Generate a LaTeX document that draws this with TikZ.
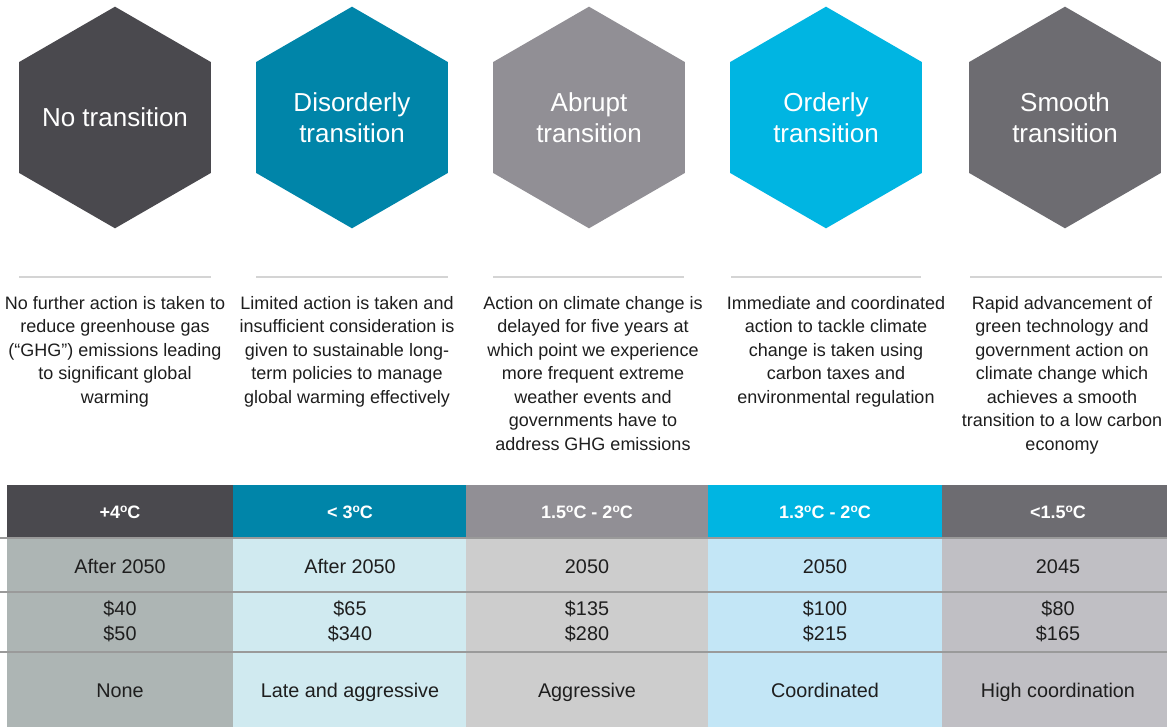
\documentclass[tikz,border=0pt]{standalone}
\usepackage{fontspec}
\setmainfont{Liberation Sans}
\usetikzlibrary{shapes.geometric}
\definecolor{hexA}{HTML}{4A494E}
\definecolor{hexB}{HTML}{0085A9}
\definecolor{hexC}{HTML}{918F95}
\definecolor{hexD}{HTML}{00B5E2}
\definecolor{hexE}{HTML}{6D6C71}
\definecolor{bodyA}{HTML}{ADB5B4}
\definecolor{bodyB}{HTML}{D0EAF0}
\definecolor{bodyC}{HTML}{CDCDCD}
\definecolor{bodyD}{HTML}{C3E6F6}
\definecolor{bodyE}{HTML}{C0BFC4}
\definecolor{rule}{HTML}{9A9A9A}
\definecolor{sep}{HTML}{D4D4D4}
\definecolor{ink}{HTML}{1E1E1E}
\tikzset{
  hexa/.style={regular polygon, regular polygon sides=6, shape border rotate=30,
    minimum size=221.6pt, inner sep=0pt},
  hextext/.style={text=white, align=center, inner sep=0pt,
    font=\fontsize{26}{31}\selectfont},
  desc/.style={anchor=north, inner sep=0pt, align=center, text=ink,
    font=\fontsize{18}{23.5}\selectfont},
  sepline/.style={draw=sep, line width=1.6pt},
  cell/.style={anchor=north west, inner sep=0pt, outer sep=0pt},
  head/.style={text=white, inner sep=0pt, text height=13pt, text depth=0pt,
    font=\bfseries\fontsize{18}{20}\selectfont},
  body/.style={text=ink, align=center, inner sep=0pt,
    font=\fontsize{19.8}{25}\selectfont},
  one/.style={text height=14.2pt, text depth=0pt},
  hrule/.style={draw=rule, line width=1.6pt}
}
\newcommand{\dg}{\raisebox{0.33em}{\fontsize{12}{12}\selectfont o}}
\begin{document}
\begin{tikzpicture}[x=1pt,y=-1pt]
\useasboundingbox (0,0) rectangle (1167,727);
\fill[white] (0,0) rectangle (1167,727);
% hexagons
\node[hexa, fill=hexA] (h1) at (115,117.5) {};
\node[hexa, fill=hexB] (h2) at (352,117.5) {};
\node[hexa, fill=hexC] (h3) at (589,117.5) {};
\node[hexa, fill=hexD] (h4) at (826,117.5) {};
\node[hexa, fill=hexE] (h5) at (1065,117.5) {};
\node[hextext] (h1t) at (h1.center) {No transition};
\node[hextext] (h2t) at (h2.center) {Disorderly\\transition};
\node[hextext] (h3t) at (h3.center) {Abrupt\\transition};
\node[hextext] (h4t) at (h4.center) {Orderly\\transition};
\node[hextext] (h5t) at (h5.center) {Smooth\\transition};
% separators
\coordinate (s1a) at (19,277); \coordinate (s1b) at (211,277);
\coordinate (s2a) at (256,277); \coordinate (s2b) at (448,277);
\coordinate (s3a) at (493,277); \coordinate (s3b) at (684,277);
\coordinate (s4a) at (731,277); \coordinate (s4b) at (921,277);
\coordinate (s5a) at (970,277); \coordinate (s5b) at (1162,277);
\draw[sepline] (s1a) -- (s1b);
\draw[sepline] (s2a) -- (s2b);
\draw[sepline] (s3a) -- (s3b);
\draw[sepline] (s4a) -- (s4b);
\draw[sepline] (s5a) -- (s5b);
% descriptions
\node[desc] (d1) at (115,296) {No further action is taken to\\reduce greenhouse gas\\(“GHG”) emissions leading\\to significant global\\warming};
\node[desc] (d2) at (347,296) {Limited action is taken and\\insufficient consideration is\\given to sustainable long-\\term policies to manage\\global warming effectively};
\node[desc] (d3) at (593,296) {Action on climate change is\\delayed for five years at\\which point we experience\\more frequent extreme\\weather events and\\governments have to\\address GHG emissions};
\node[desc] (d4) at (836,296) {Immediate and coordinated\\action to tackle climate\\change is taken using\\carbon taxes and\\environmental regulation};
\node[desc] (d5) at (1062,296) {Rapid advancement of\\green technology and\\government action on\\climate change which\\achieves a smooth\\transition to a low carbon\\economy};
% table backgrounds
\node[cell, fill=hexA, minimum width=226pt, minimum height=53pt] (c1h) at (7,485) {};
\node[cell, fill=hexB, minimum width=233pt, minimum height=53pt] (c2h) at (233,485) {};
\node[cell, fill=hexC, minimum width=242pt, minimum height=53pt] (c3h) at (466,485) {};
\node[cell, fill=hexD, minimum width=234pt, minimum height=53pt] (c4h) at (708,485) {};
\node[cell, fill=hexE, minimum width=225pt, minimum height=53pt] (c5h) at (942,485) {};
\node[cell, fill=bodyA, minimum width=226pt, minimum height=189pt] (c1b) at (7,538) {};
\node[cell, fill=bodyB, minimum width=233pt, minimum height=189pt] (c2b) at (233,538) {};
\node[cell, fill=bodyC, minimum width=242pt, minimum height=189pt] (c3b) at (466,538) {};
\node[cell, fill=bodyD, minimum width=234pt, minimum height=189pt] (c4b) at (708,538) {};
\node[cell, fill=bodyE, minimum width=225pt, minimum height=189pt] (c5b) at (942,538) {};
% rules
\coordinate (r1a) at (0,538); \coordinate (r1b) at (1167,538);
\coordinate (r2a) at (0,592); \coordinate (r2b) at (1167,592);
\coordinate (r3a) at (0,652); \coordinate (r3b) at (1167,652);
\draw[hrule] (r1a) -- (r1b);
\draw[hrule] (r2a) -- (r2b);
\draw[hrule] (r3a) -- (r3b);
% header text
\node[head] (t1h) at (120,511.5) {+4\dg C};
\node[head] (t2h) at (350,511.5) {< 3\dg C};
\node[head] (t3h) at (587,511.5) {1.5\dg C - 2\dg C};
\node[head] (t4h) at (825,511.5) {1.3\dg C - 2\dg C};
\node[head] (t5h) at (1058,511.5) {<1.5\dg C};
% row 1
\node[body, one] (t1a) at (120,566) {After 2050};
\node[body, one] (t2a) at (350,566) {After 2050};
\node[body, one] (t3a) at (587,566) {2050};
\node[body, one] (t4a) at (825,566) {2050};
\node[body, one] (t5a) at (1058,566) {2045};
% row 2
\node[body] (t1b) at (120,621.5) {\$40\\\$50};
\node[body] (t2b) at (350,621.5) {\$65\\\$340};
\node[body] (t3b) at (587,621.5) {\$135\\\$280};
\node[body] (t4b) at (825,621.5) {\$100\\\$215};
\node[body] (t5b) at (1058,621.5) {\$80\\\$165};
% row 3
\node[body, one] (t1c) at (120,690) {None};
\node[body, one] (t2c) at (350,690) {Late and aggressive};
\node[body, one] (t3c) at (587,690) {Aggressive};
\node[body, one] (t4c) at (825,690) {Coordinated};
\node[body, one] (t5c) at (1058,690) {High coordination};
\end{tikzpicture}
\end{document}
